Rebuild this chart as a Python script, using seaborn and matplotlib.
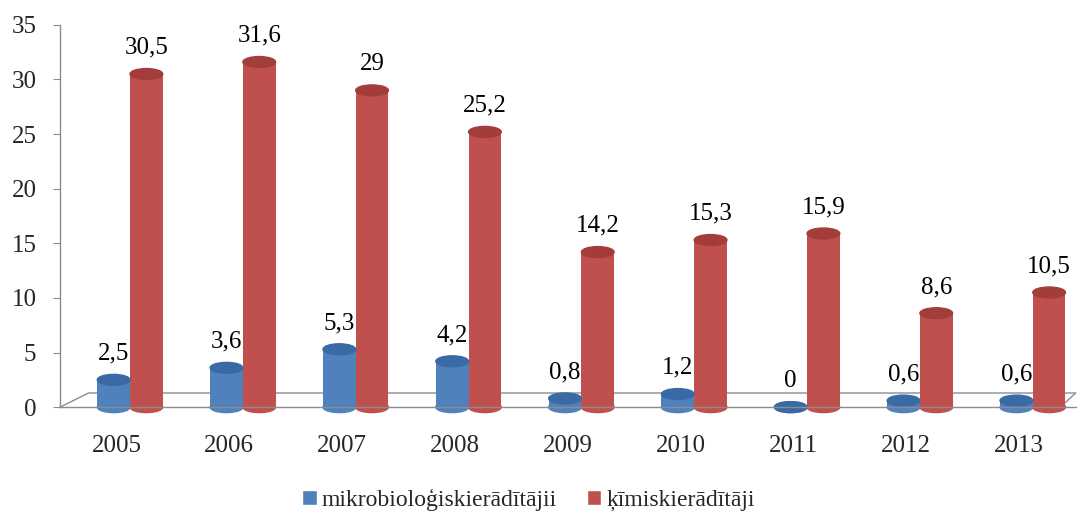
import numpy as np
import pandas as pd
import matplotlib.pyplot as plt
import seaborn as sns
from matplotlib.patches import Ellipse

years = ['2005', '2006', '2007', '2008', '2009', '2010', '2011', '2012', '2013']
mikro = [2.5, 3.6, 5.3, 4.2, 0.8, 1.2, 0.0, 0.6, 0.6]
kimi = [30.5, 31.6, 29.0, 25.2, 14.2, 15.3, 15.9, 8.6, 10.5]
series = ['mikrobioloģiskierādītājii', 'ķīmiskierādītāji']
colors = ['#4F81BD', '#C0504D']
tops = ['#3A6AA6', '#A33D3A']

df = pd.DataFrame({
    'year': years * 2,
    'value': mikro + kimi,
    'series': [series[0]] * len(years) + [series[1]] * len(years),
})

sns.set_style('white')
plt.rcParams['font.family'] = ['Liberation Serif', 'DejaVu Serif']

fig = plt.figure(figsize=(10.92, 5.18), dpi=100)
ax = fig.add_axes([0.055, 0.214, 0.93, 0.738])

sns.barplot(data=df, x='year', y='value', hue='series', order=years,
            hue_order=series, palette=colors, width=0.58, gap=0,
            saturation=1, ax=ax, legend=True)

ax.set_ylim(0, 35)
ax.set_xlim(-0.5, len(years) - 0.5)
ax.set_yticks(range(0, 36, 5))

# cylinder look: shift slightly for perspective, add elliptic caps
shift = 0.12
cap_h = 1.0
for container, top_c, base_c in zip(ax.containers, tops, colors):
    for p in container:
        p.set_x(p.get_x() + shift)
        p.set_edgecolor('none')
        cx = p.get_x() + p.get_width() / 2
        h = p.get_height()
        ax.add_patch(Ellipse((cx, 0), p.get_width(), cap_h, color=base_c,
                             zorder=p.get_zorder(), clip_on=False))
        ax.add_patch(Ellipse((cx, h), p.get_width(), cap_h, color=top_c,
                             zorder=p.get_zorder() + 0.1, clip_on=False))
        lbl = ('%g' % h).replace('.', ',')
        ax.annotate(lbl, (cx, h + cap_h / 2), xytext=(0, 7),
                    textcoords='offset points', ha='center', va='bottom',
                    fontsize=18, color='black')

# 3D-like floor
gray = '#8C8C8C'
ax.plot([0, 0.028, 1.0], [0, 0.037, 0.037], transform=ax.transAxes,
        color=gray, lw=1, clip_on=False, zorder=0.5)
ax.plot([0.985, 1.0], [0, 0.037], transform=ax.transAxes,
        color=gray, lw=1, clip_on=False, zorder=0.5)

for s in ['top', 'right']:
    ax.spines[s].set_visible(False)
for s in ['left', 'bottom']:
    ax.spines[s].set_color(gray)
    ax.spines[s].set_linewidth(1)

ax.set_xticks(np.arange(-0.5, len(years), 1), minor=True)
ax.tick_params(axis='x', which='major', length=0, pad=20, labelsize=18)
ax.tick_params(axis='x', which='minor', length=7, color=gray, direction='out')
ax.tick_params(axis='y', length=5, color=gray, direction='out', labelsize=18,
               left=True, pad=12)
ax.set_xlabel('')
ax.set_ylabel('')

handles, labels = ax.get_legend_handles_labels()
ax.get_legend().remove()
fig.legend(handles, labels, loc='center', bbox_to_anchor=(0.484, 0.035), ncol=2,
           frameon=False, fontsize=17, handlelength=0.6, handleheight=0.6,
           handletextpad=0.2, columnspacing=1.3)

fig.savefig('out.png', dpi=100)
